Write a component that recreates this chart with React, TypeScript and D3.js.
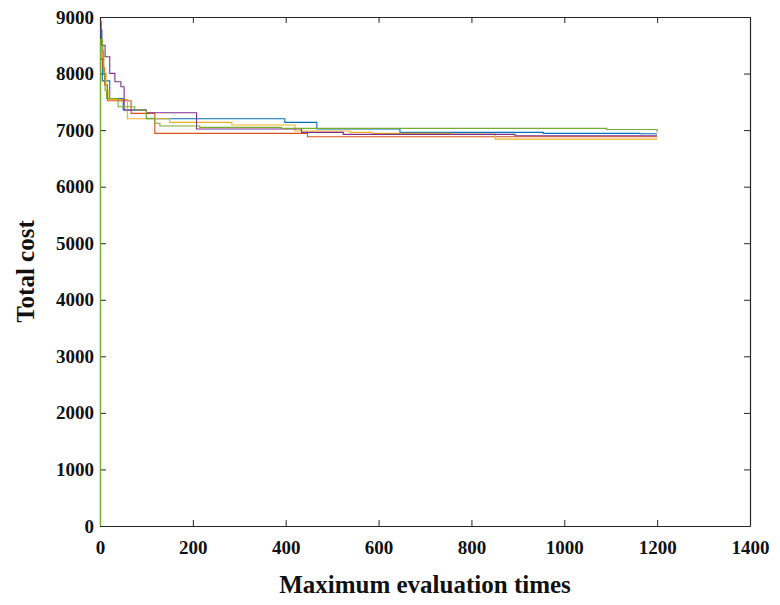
import React, { useEffect, useRef } from 'react';
import * as d3 from 'd3';

// axis ticks
const xTicks = [0, 200, 400, 600, 800, 1000, 1200, 1400];
const yTicks = [0, 1000, 2000, 3000, 4000, 5000, 6000, 7000, 8000, 9000];

// each run: evaluation count where the best cost changes, and the cost from there on
const blueIter = [0, 2, 5, 21, 50, 100, 398, 467, 646, 955, 1163, 1200];
const blueCost = [8800, 8250, 7870, 7560, 7355, 7200, 7137, 7019, 6960, 6943, 6935, 6935];

const orangeIter = [0, 3, 6, 10, 16, 67, 118, 447, 1200];
const orangeCost = [8920, 8500, 8100, 7800, 7520, 7296, 6943, 6883, 6883];

const yellowIter = [0, 4, 8, 13, 19, 59, 150, 284, 420, 538, 585, 754, 851, 1200];
const yellowCost = [8600, 8300, 8000, 7700, 7540, 7200, 7137, 7090, 6984, 6960, 6943, 6931, 6840, 6840];

const purpleIter = [0, 4, 11, 21, 32, 45, 52, 100, 208, 434, 524, 894, 1200];
const purpleCost = [8770, 8500, 8297, 8003, 7855, 7767, 7355, 7308, 7020, 6960, 6925, 6900, 6900];

const greenIter = [0, 1, 5, 8, 11, 14, 39, 75, 100, 118, 129, 215, 391, 1091, 1200];
const greenCost = [0, 8600, 8400, 8000, 7700, 7560, 7414, 7355, 7208, 7120, 7072, 7049, 7031, 7010, 6963];

const runs = [
  { iter: blueIter, cost: blueCost, color: '#0072BD' },
  { iter: orangeIter, cost: orangeCost, color: '#D95319' },
  { iter: yellowIter, cost: yellowCost, color: '#EDB120' },
  { iter: purpleIter, cost: purpleCost, color: '#7E2F8E' },
  { iter: greenIter, cost: greenCost, color: '#77AC30' },
];

const App = () => {
  const svgRef = useRef<SVGSVGElement>(null);

  useEffect(() => {
    const width = 780;
    const height = 605;
    const margin = { top: 17, right: 30, bottom: 79, left: 100 };
    const font = '"Liberation Serif", "Times New Roman", serif';

    d3.select(svgRef.current).selectAll('*').remove();
    const svg = d3.select(svgRef.current)
      .attr('width', width)
      .attr('height', height);

    const x = d3.scaleLinear().domain([0, 1400]).range([margin.left, width - margin.right]);
    const y = d3.scaleLinear().domain([0, 9000]).range([height - margin.bottom, margin.top]);

    svg.append('rect')
      .attr('width', width).attr('height', height).attr('fill', '#fff');

    svg.append('defs').append('clipPath').attr('id', 'plot-clip')
      .append('rect')
      .attr('x', margin.left - 1).attr('y', margin.top)
      .attr('width', x(1400) - x(0) + 1).attr('height', y(0) - y(9000));

    // axes, ticks inward on all four sides
    const tickLen = 6;
    const axisColor = '#262626';
    const fmt = d3.format('d');
    const bottom = svg.append('g').attr('transform', `translate(0,${y(0)})`)
      .call(d3.axisBottom(x).tickValues(xTicks).tickFormat(fmt).tickSizeInner(-tickLen).tickSizeOuter(0).tickPadding(15));
    const top = svg.append('g').attr('transform', `translate(0,${y(9000)})`)
      .call(d3.axisTop(x).tickValues(xTicks).tickSizeInner(-tickLen).tickSizeOuter(0).tickFormat(() => ''));
    const left = svg.append('g').attr('transform', `translate(${x(0)},0)`)
      .call(d3.axisLeft(y).tickValues(yTicks).tickFormat(fmt).tickSizeInner(-tickLen).tickSizeOuter(0).tickPadding(6));
    const right = svg.append('g').attr('transform', `translate(${x(1400)},0)`)
      .call(d3.axisRight(y).tickValues(yTicks).tickSizeInner(-tickLen).tickSizeOuter(0).tickFormat(() => ''));

    [bottom, top, left, right].forEach(a => {
      a.select('.domain').attr('stroke', axisColor).attr('stroke-width', 1.2);
      a.selectAll('.tick line').attr('stroke', axisColor).attr('stroke-width', 1);
      a.selectAll('text')
        .attr('font-family', font)
        .attr('font-weight', 'bold')
        .attr('font-size', 19)
        .attr('fill', '#111');
    });
    left.selectAll('text').attr('dy', '0.32em');

    // lines, drawn over the axes so the green start along x = 0 shows
    const line = d3.line<[number, number]>()
      .x(d => x(d[0]))
      .y(d => y(d[1]))
      .curve(d3.curveStepAfter);

    const g = svg.append('g').attr('clip-path', 'url(#plot-clip)');
    runs.forEach(r => {
      const pts = r.iter.map((v, i) => [v, r.cost[i]] as [number, number]);
      g.append('path')
        .datum(pts)
        .attr('fill', 'none')
        .attr('stroke', r.color)
        .attr('stroke-width', 1.1)
        .attr('d', line);
    });

    // axis labels
    svg.append('text')
      .attr('x', (x(0) + x(1400)) / 2)
      .attr('y', 593)
      .attr('text-anchor', 'middle')
      .attr('font-family', font)
      .attr('font-weight', 'bold')
      .attr('font-size', 25)
      .attr('fill', '#111')
      .text('Maximum evaluation times');

    svg.append('text')
      .attr('transform', 'rotate(-90)')
      .attr('x', -(y(0) + y(9000)) / 2)
      .attr('y', 34)
      .attr('text-anchor', 'middle')
      .attr('font-family', font)
      .attr('font-weight', 'bold')
      .attr('font-size', 25)
      .attr('fill', '#111')
      .text('Total cost');
  }, []);

  return (
    <div style={{ position: 'absolute', left: 0, top: 0 }}>
      <svg ref={svgRef}></svg>
    </div>
  );
};

export default App;
